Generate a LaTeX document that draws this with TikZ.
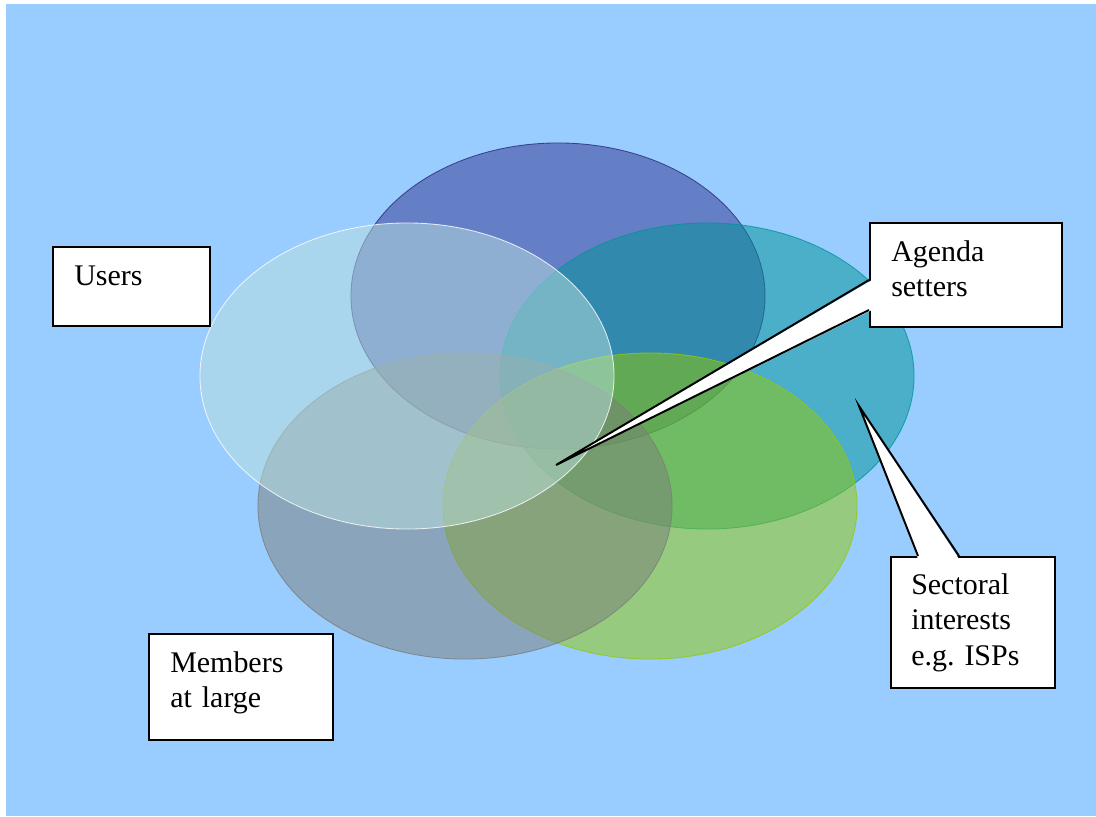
\documentclass[tikz,border=0pt]{standalone}
\usepackage{fontspec}
\setmainfont{Liberation Serif}
\usetikzlibrary{positioning,calc}
\definecolor{bg}{RGB}{153,204,255}
\definecolor{topblue}{RGB}{51,52,145}
\definecolor{rightteal}{RGB}{0,148,151}
\definecolor{lowgreen}{RGB}{147,202,0}
\definecolor{lowgray}{RGB}{123,126,121}
\definecolor{userblue}{RGB}{185,224,221}
\newcommand{\callfont}{\fontsize{21.3pt}{25.5pt}\selectfont\frenchspacing}

\begin{document}
\begin{tikzpicture}[x=0.025cm, y=-0.025cm,
  venn/.style={fill opacity=0.5, draw opacity=0.8, line width=0.6pt},
  box/.style={draw=black, fill=white, line width=1.4pt, inner sep=0pt},
  lbl/.style={anchor=base west, inner sep=0pt, font=\callfont, text width=4cm, align=left},
  tail/.style={draw=black, line width=1.4pt}]

  \useasboundingbox (0,0) rectangle (1096,816);
  \fill[bg] (6,4) rectangle (1096,816);

  % the five circles
  \draw[venn, fill=topblue, draw=topblue!80!black] (558,296) ellipse [x radius=5.175cm, y radius=3.825cm];
  \draw[venn, fill=rightteal, draw=rightteal] (707,376) ellipse [x radius=5.175cm, y radius=3.825cm];
  \draw[venn, fill=lowgreen, draw=lowgreen] (650,506) ellipse [x radius=5.175cm, y radius=3.825cm];
  \draw[venn, fill=lowgray, draw=lowgray] (465,506) ellipse [x radius=5.175cm, y radius=3.825cm];
  \draw[venn, fill=userblue, draw=white] (407,376) ellipse [x radius=5.175cm, y radius=3.825cm];

  \node[box, minimum width=3.925cm, minimum height=1.975cm] (users) at (131.5,286.5) {};
  \node[lbl] (userstxt) at ($(users.north west)+(22,39)$) {Users};

  \node[box, minimum width=4.6cm, minimum height=2.65cm] (members) at (241,687) {};
  \node[lbl] (memberstxt) at ($(members.north west)+(22,39)$) {Members\\at large};

  \node[box, minimum width=4.8cm, minimum height=2.6cm] (agenda) at (966,275) {};
  \node[lbl] (agendatxt) at ($(agenda.north west)+(22,39)$) {Agenda\\setters};
  \coordinate (agendatip) at (556,465);
  \fill[white] ($(agenda.west)+(3,5)$) -- (agendatip) -- ($(agenda.west)+(3,35)$) -- cycle;
  \draw[tail] ($(agenda.west)+(0,5)$) -- (agendatip) -- ($(agenda.west)+(0,35)$);

  \node[box, minimum width=4.1cm, minimum height=3.275cm] (sector) at (973,622.5) {};
  \node[lbl] (sectortxt) at ($(sector.north west)+(21,38)$) {Sectoral\\interests\\e.g. ISPs};
  \coordinate (sectortip) at (859,406);
  \fill[white] ($(sector.north)+(-55,3)$) -- (sectortip) -- ($(sector.north)+(-14,3)$) -- cycle;
  \draw[tail] ($(sector.north)+(-55,0)$) -- (sectortip) -- ($(sector.north)+(-14,0)$);

\end{tikzpicture}
\end{document}
